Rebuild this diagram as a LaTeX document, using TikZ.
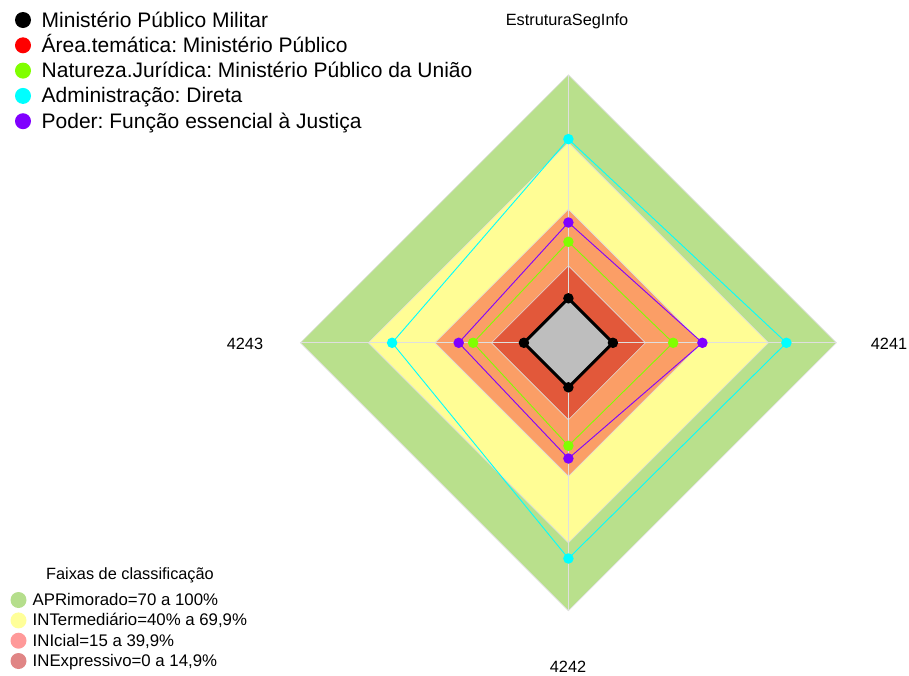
\documentclass[tikz,border=0pt]{standalone}
\usepackage{fontspec}
\setmainfont{Liberation Sans}
\usetikzlibrary{calc}
\definecolor{bandA}{RGB}{185,224,140}
\definecolor{bandB}{RGB}{255,253,149}
\definecolor{bandC}{RGB}{251,158,102}
\definecolor{bandD}{RGB}{226,88,58}
\definecolor{holegray}{RGB}{190,190,190}
\definecolor{sercyan}{RGB}{0,255,255}
\definecolor{serpurple}{RGB}{128,0,255}
\definecolor{sergreen}{RGB}{128,255,0}
\definecolor{serred}{RGB}{255,0,0}
\definecolor{legA}{RGB}{181,222,140}
\definecolor{legB}{RGB}{255,255,153}
\definecolor{legC}{RGB}{255,153,153}
\definecolor{legD}{RGB}{224,133,133}
\tikzset{
  band/.style={fill=#1, draw=gray!25, line width=0.6pt},
  gridaxis/.style={draw=gray!25, line width=0.8pt},
  serline/.style={draw=#1, line width=0.9pt, line join=miter},
  serdot/.style={circle, fill=#1, inner sep=0pt, minimum size=10.5pt},
  legdot/.style={circle, fill=#1, inner sep=0pt, minimum size=16pt},
  legtext/.style={anchor=base west, inner sep=0pt, font=\fontsize{21}{24}\selectfont},
  bandtext/.style={anchor=base west, inner sep=0pt, font=\fontsize{16.8}{19}\selectfont},
  bandtitle/.style={anchor=base, inner sep=0pt, font=\fontsize{16.3}{19}\selectfont},
  axlabel/.style={anchor=base, inner sep=0pt, font=\fontsize{16.3}{19}\selectfont}
}
\begin{document}
\frenchspacing
\begin{tikzpicture}[x=1pt,y=-1pt]
\useasboundingbox (0,0) rectangle (909,675);
\coordinate (C) at (568.4,342.8);
% bands
\foreach \r/\c in {268/bandA,200/bandB,133.5/bandC,77/bandD}{
  \path[band=\c] ($(C)+(0,-\r)$) -- ($(C)+(\r,0)$) -- ($(C)+(0,\r)$) -- ($(C)+(-\r,0)$) -- cycle;
}
% axes
\coordinate (AT) at ($(C)+(0,-268)$);
\coordinate (AR) at ($(C)+(268,0)$);
\coordinate (AB) at ($(C)+(0,268)$);
\coordinate (AL) at ($(C)+(-268,0)$);
\draw[gridaxis] (C) -- (AT);
\draw[gridaxis] (C) -- (AR);
\draw[gridaxis] (C) -- (AB);
\draw[gridaxis] (C) -- (AL);
% series: top/right/bottom/left radii
\foreach \nm/\col/\t/\rr/\b/\l in {cy/sercyan/203.7/218/215.7/176.3, pu/serpurple/120.3/134/115.7/109.7, gr/sergreen/101/104.7/103/95.3}{
  \coordinate (\nm t) at ($(C)+(0,-\t)$);
  \coordinate (\nm r) at ($(C)+(\rr,0)$);
  \coordinate (\nm b) at ($(C)+(0,\b)$);
  \coordinate (\nm l) at ($(C)+(-\l,0)$);
  \draw[serline=\col] (\nm t) -- (\nm r) -- (\nm b) -- (\nm l) -- cycle;
}
% black series (hole)
\coordinate (bkt) at ($(C)+(0,-44.5)$);
\coordinate (bkr) at ($(C)+(44.5,0)$);
\coordinate (bkb) at ($(C)+(0,44.5)$);
\coordinate (bkl) at ($(C)+(-44.5,0)$);
\draw[fill=holegray, draw=black, line width=3pt, line join=round] (bkt) -- (bkr) -- (bkb) -- (bkl) -- cycle;
% dots
\foreach \nm/\col in {cy/sercyan, pu/serpurple, gr/sergreen, bk/black}{
  \foreach \p in {t,r,b,l}{
    \node[serdot=\col] (d\nm\p) at (\nm\p) {};
  }
}
% axis labels
\node[axlabel] (labtop) at (567,25) {EstruturaSegInfo};
\node[axlabel] (labright) at (889,349.5) {4241};
\node[axlabel] (lableft) at (245,349.5) {4243};
\node[axlabel] (labbottom) at (568,672.5) {4242};
% top legend
\node[legdot=black] (l1) at (23,20) {};
\node[legdot=serred] (l2) at (23,45.3) {};
\node[legdot=sergreen] (l3) at (23,70.6) {};
\node[legdot=sercyan] (l4) at (23,95.9) {};
\node[legdot=serpurple] (l5) at (23,121.2) {};
\node[legtext] (t1) at (41.5,27) {Ministério Público Militar};
\node[legtext] (t2) at (41.5,52.3) {Área.temática: Ministério Público};
\node[legtext] (t3) at (41.5,77.6) {Natureza.Jurídica: Ministério Público da União};
\node[legtext] (t4) at (41.5,102.9) {Administração: Direta};
\node[legtext] (t5) at (41.5,128.2) {Poder: Função essencial à Justiça};
% bottom legend
\node[bandtitle] (bt) at (130,579) {Faixas de classificação};
\node[legdot=legA] (b1) at (18.5,600) {};
\node[legdot=legB] (b2) at (18.5,620.4) {};
\node[legdot=legC] (b3) at (18.5,640.7) {};
\node[legdot=legD] (b4) at (18.5,661) {};
\node[bandtext] (bx1) at (32.5,605.5) {APRimorado=70 a 100\%};
\node[bandtext] (bx2) at (32.5,625.8) {INTermediário=40\% a 69,9\%};
\node[bandtext] (bx3) at (32.5,646.1) {INIcial=15 a 39,9\%};
\node[bandtext] (bx4) at (32.5,666.4) {INExpressivo=0 a 14,9\%};
\end{tikzpicture}
\end{document}
